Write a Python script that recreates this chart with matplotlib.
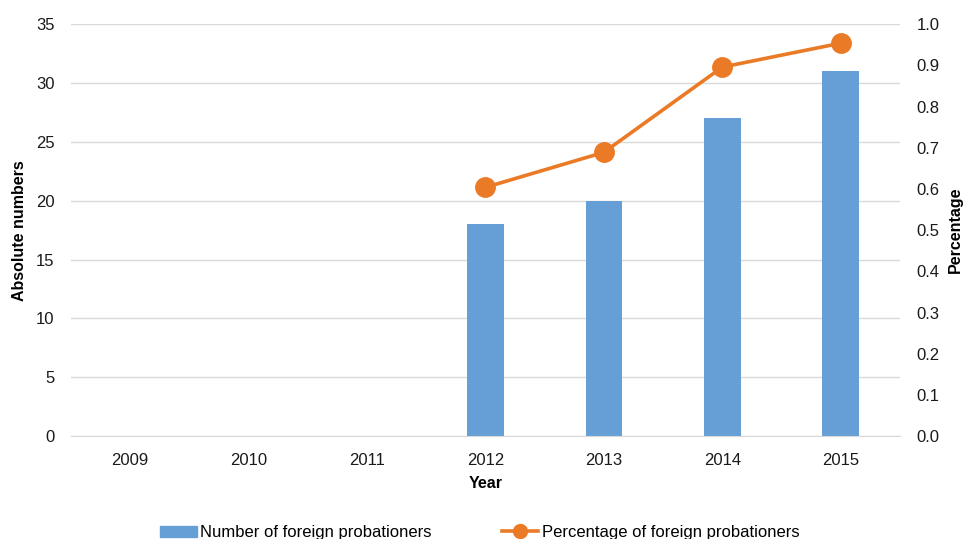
import matplotlib
matplotlib.use("Agg")
import matplotlib.pyplot as plt
from matplotlib.lines import Line2D
from matplotlib.patches import Patch

plt.rcParams['font.family'] = ['Liberation Sans', 'DejaVu Sans']

years = ["2009", "2010", "2011", "2012", "2013", "2014", "2015"]
counts = [0, 0, 0, 18, 20, 27, 31]
pct_years = ["2012", "2013", "2014", "2015"]
percentages = [0.604, 0.689, 0.896, 0.954]

bar_color = "#659FD5"
line_color = "#EB7A26"
text_color = "#1A1A1A"

fig = plt.figure(figsize=(9.65, 5.39), dpi=100)
ax = fig.add_axes([0.0736, 0.191, 0.859, 0.764])
x = list(range(len(years)))
ax.bar(x, counts, width=0.31, color=bar_color, zorder=2)
ax.set_xlim(-0.5, len(years) - 0.5)
ax.set_ylim(0, 35)
ax.set_yticks(range(0, 36, 5))
ax.set_xticks(x)
ax.set_xticklabels(years)
ax.grid(axis='y', color='#D9D9D9', linewidth=1, zorder=0)
ax.set_axisbelow(True)
for s in ['top', 'right', 'left']:
    ax.spines[s].set_visible(False)
ax.spines['bottom'].set_color('#D9D9D9')
ax.tick_params(axis='both', length=0, labelsize=12, colors=text_color)
ax.tick_params(axis='x', pad=12)
ax.tick_params(axis='y', pad=12)
ax.set_ylabel("Absolute numbers", fontsize=11.5, fontweight='bold', labelpad=6)
ax.set_xlabel("Year", fontsize=11.5, fontweight='bold', labelpad=6)

ax2 = ax.twinx()
px = [years.index(y) for y in pct_years]
ax2.plot(px, percentages, color=line_color, linewidth=2.6, marker='o',
         markersize=14, zorder=3)
ax2.set_ylim(0, 1.0)
ax2.set_yticks([i / 10 for i in range(11)])
ax2.set_yticklabels([f"{i/10:.1f}" for i in range(11)])
for s in ['top', 'right', 'left', 'bottom']:
    ax2.spines[s].set_visible(False)
ax2.tick_params(axis='y', length=0, labelsize=12, colors=text_color, pad=12)
ax2.set_ylabel("Percentage", fontsize=11.5, fontweight='bold', labelpad=6)

handles = [Patch(color=bar_color),
           Line2D([0], [0], color=line_color, linewidth=2.6, marker='o', markersize=10)]
labels = ["Number of foreign probationers", "Percentage of foreign probationers"]
fig.legend(handles, labels, loc='lower center', bbox_to_anchor=(0.497, -0.03), ncol=2,
           frameon=False, fontsize=12, columnspacing=4.2, handlelength=2.2,
           handletextpad=0.2)

fig.savefig("out.png", dpi=100)
